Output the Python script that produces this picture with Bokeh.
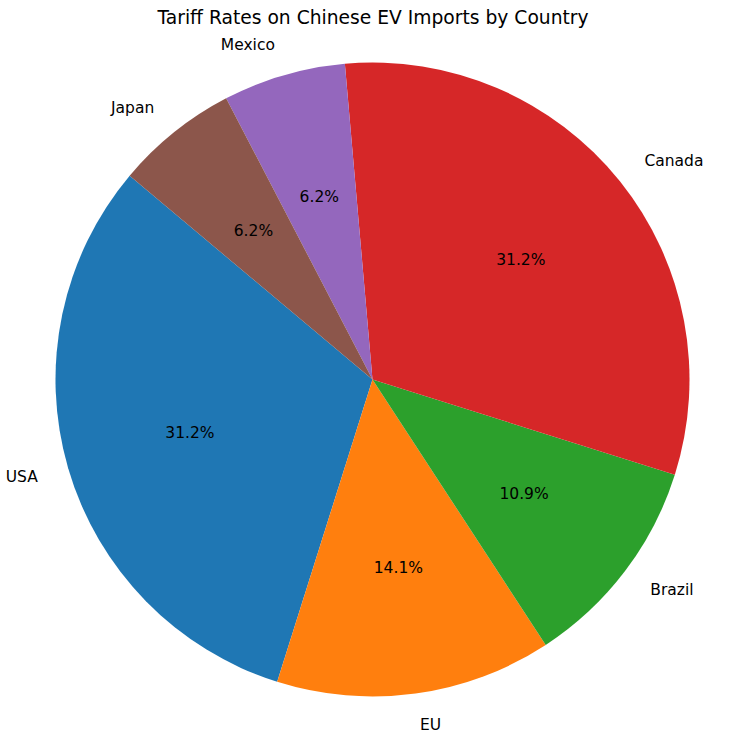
import numpy as np
from bokeh.plotting import figure
from bokeh.models import Range1d, ColumnDataSource
from bokeh.core.properties import value
from bokeh.embed import file_html
from bokeh.resources import INLINE

# Tariff rates (%) applied to Chinese EV imports
countries = ["USA", "EU", "Brazil", "Canada", "Mexico", "Japan"]
tariffs = [100, 45, 35, 100, 20, 20]
colors = ["#1f77b4", "#ff7f0e", "#2ca02c", "#d62728", "#9467bd", "#8c564b"]

W, H = 729, 742
CX, CY = 372, H - 379   # pie centre in screen-pixel units (y up)
R = 317                 # pie radius
START = 140             # start angle in degrees, counter-clockwise

vals = np.array(tariffs, dtype=float)
frac = vals / vals.sum()
ends = np.deg2rad(START) + np.cumsum(frac) * 2 * np.pi
starts = ends - frac * 2 * np.pi
mids = (starts + ends) / 2

src = ColumnDataSource(dict(
    start=starts, end=ends, color=colors,
    lx=CX + 1.1 * R * np.cos(mids), ly=CY + 1.1 * R * np.sin(mids),
    px=CX + 0.6 * R * np.cos(mids), py=CY + 0.6 * R * np.sin(mids),
    name=countries,
    pct=[f"{100 * f:.1f}%" for f in frac],
    align=["left" if np.cos(m) > 0 else "right" for m in mids],
))

p = figure(width=W, height=H, output_backend="svg", toolbar_location=None,
           x_range=Range1d(0, W), y_range=Range1d(0, H),
           min_border=0, outline_line_color=None)
p.axis.visible = False
p.grid.visible = False
p.background_fill_color = "white"
p.border_fill_color = "white"

p.wedge(x=CX, y=CY, radius=R, start_angle="start", end_angle="end",
        direction="anticlock", fill_color="color", line_color=None, source=src)

p.text(x="lx", y="ly", text="name", source=src, text_align="align",
       text_baseline="middle", text_font=value("DejaVu Sans"),
       text_font_size="15.5px", text_color="black")
p.text(x="px", y="py", text="pct", source=src, text_align="center",
       text_baseline="middle", text_font=value("DejaVu Sans"),
       text_font_size="15.5px", text_color="black")

p.text(x=[W / 2 + 8], y=[H - 17], text=["Tariff Rates on Chinese EV Imports by Country"],
       text_align="center", text_baseline="middle", text_font=value("DejaVu Sans"),
       text_font_size="18.7px", text_color="black")

open("out.html", "w").write(file_html(p, INLINE))
